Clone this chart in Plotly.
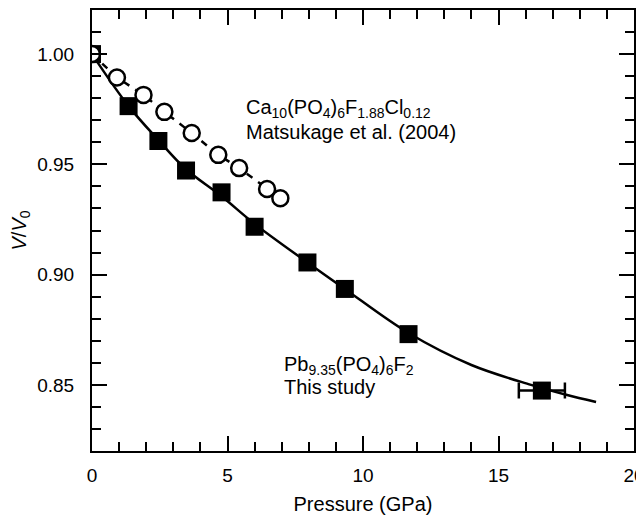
import plotly.graph_objects as go

# Pb9.35(PO4)6F2, this study
pb_pressure = [0.0, 1.35, 2.45, 3.47, 4.78, 6.0, 7.95, 9.33, 11.68, 16.6]
pb_volume = [1.000, 0.9764, 0.9606, 0.9472, 0.9373, 0.9217, 0.9055, 0.8935, 0.8730, 0.8474]
pb_perr = [0, 0, 0, 0, 0, 0, 0, 0, 0, 0.85]

# EOS fit curve
fit_pressure = [0.0, 1.35, 2.45, 3.45, 4.78, 6.0, 7.95, 9.33, 11.68, 14.0, 16.2, 17.5, 18.6]
fit_volume = [1.000, 0.9764, 0.9610, 0.9480, 0.9355, 0.9230, 0.9055, 0.8935, 0.8735, 0.8590, 0.8500, 0.8455, 0.8422]

# Ca10(PO4)6F1.88Cl0.12, Matsukage et al. (2004)
ca_pressure = [0.0, 0.92, 1.90, 2.67, 3.68, 4.66, 5.43, 6.46, 6.95]
ca_volume = [1.000, 0.9894, 0.9815, 0.9738, 0.9642, 0.9543, 0.9483, 0.9388, 0.9346]

x_ticks = [0, 5, 10, 15, 20]
y_ticks = [0.85, 0.90, 0.95, 1.00]
y_ticklabels = ["0.85", "0.90", "0.95", "1.00"]

FONT = "Arial, Liberation Sans, Helvetica, sans-serif"

fig = go.Figure()

fig.add_trace(go.Scatter(
    x=fit_pressure, y=fit_volume, mode="lines",
    line=dict(color="black", width=2.5, shape="spline", smoothing=1.0),
    hoverinfo="skip", showlegend=False))

fig.add_trace(go.Scatter(
    x=pb_pressure, y=pb_volume, mode="markers",
    marker=dict(symbol="square", size=18, color="black", line=dict(width=0)),
    error_x=dict(type="data", array=pb_perr, symmetric=True, color="black",
                 thickness=2.5, width=8),
    showlegend=False))

fig.add_trace(go.Scatter(
    x=ca_pressure, y=ca_volume, mode="lines+markers",
    line=dict(color="black", width=2.5, dash="7px,7px"),
    marker=dict(symbol="circle", size=16, color="white",
                line=dict(color="black", width=2.5)),
    showlegend=False))

ann_font = dict(family=FONT, size=20, color="black")
fig.add_annotation(x=5.6, y=0.9752, xref="x", yref="y", xanchor="left", yanchor="middle",
                   text="Ca<sub>10</sub>(PO<sub>4</sub>)<sub>6</sub>F<sub>1.88</sub>Cl<sub>0.12</sub>",
                   showarrow=False, font=ann_font)
fig.add_annotation(x=5.6, y=0.9645, xref="x", yref="y", xanchor="left", yanchor="middle",
                   text="Matsukage et al. (2004)", showarrow=False, font=ann_font)
fig.add_annotation(x=7.0, y=0.8590, xref="x", yref="y", xanchor="left", yanchor="middle",
                   text="Pb<sub>9.35</sub>(PO<sub>4</sub>)<sub>6</sub>F<sub>2</sub>",
                   showarrow=False, font=ann_font)
fig.add_annotation(x=7.0, y=0.8491, xref="x", yref="y", xanchor="left", yanchor="middle",
                   text="This study", showarrow=False, font=ann_font)

axis_common = dict(
    showgrid=False, zeroline=False, showline=True, linecolor="black", linewidth=2,
    mirror="allticks", ticks="inside", ticklen=15, tickwidth=2, tickcolor="black",
    tickfont=dict(family=FONT, size=19, color="black"), automargin=False,
    ticklabeloverflow="allow",
)

fig.update_xaxes(
    range=[0, 20], tickvals=x_ticks, ticktext=[str(v) for v in x_ticks],
    minor=dict(dtick=1, ticks="inside", ticklen=9, tickwidth=2, tickcolor="black"),
    title=dict(text="Pressure (GPa)", font=dict(family=FONT, size=20, color="black"), standoff=15),
    ticklabelstandoff=6,
    **axis_common)
fig.update_yaxes(
    range=[0.82, 1.02], tickvals=y_ticks, ticktext=y_ticklabels,
    minor=dict(dtick=0.01, tick0=0.82, ticks="inside", ticklen=9, tickwidth=2, tickcolor="black"),
    title=dict(text="<i>V</i>/<i>V</i><sub>0</sub>", font=dict(family=FONT, size=20, color="black"), standoff=10),
    ticklabelstandoff=12,
    **axis_common)

# the page body adds an 8px margin on every side; the figure is sized so the page
# does not scroll, and the plot area lands at x 92-634, y 10-451 of the page
fig.update_layout(
    width=636, height=507,
    margin=dict(l=84, r=10, t=2, b=64),
    paper_bgcolor="white", plot_bgcolor="white",
    font=dict(family=FONT, color="black"),
)

fig.write_html("out.html")
